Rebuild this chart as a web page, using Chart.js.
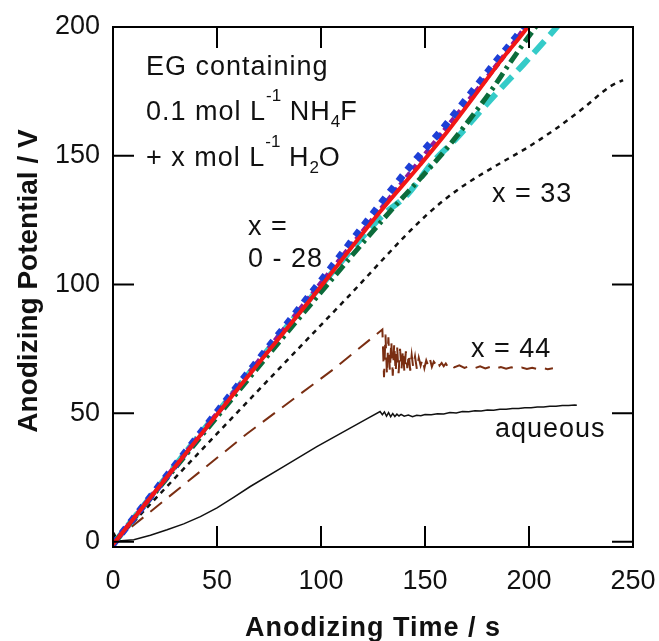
<!DOCTYPE html>
<html>
<head>
<meta charset="utf-8">
<script src="https://cdn.jsdelivr.net/npm/chart.js@4.4.1/dist/chart.umd.min.js"></script>
<style>
  html, body { margin: 0; padding: 0; background: #fff; }
</style>
</head>
<body>
<canvas id="anodChart" width="659" height="641"></canvas>
<script>
/* axis ticks */
const timeTicks = [0, 50, 100, 150, 200, 250];
const potentialTicks = [0, 50, 100, 150, 200];

/* x = 0 - 28 bundle */
const redT = [0, 50, 94.8, 128.4, 147.6, 160.6, 173, 187.5, 199, 201];
const redV = [-1, 49.5, 94, 128.2, 146.4, 159.2, 172.4, 188, 199.6, 202];
const blueT = [0, 50, 100, 127, 146.2, 157.2, 170.2, 182.7, 197, 199];
const blueV = [-1, 50.5, 101.5, 129.7, 149.1, 159.2, 172.4, 185.2, 199.6, 202];
const purpleT = [0, 100, 150, 198, 200];
const purpleV = [-1, 100.5, 150.5, 199.6, 202];
const greenT = [0, 50, 100, 134.7, 146.2, 160.6, 173.1, 182.7, 190.8, 202.8, 205];
const greenV = [-1, 48.5, 97, 129.7, 139.8, 153, 165.8, 176.3, 186, 199.6, 202];
const cyanT = [0, 50, 100, 129.9, 141.4, 153.9, 165.4, 175, 184.6, 197, 210, 215];
const cyanV = [-1, 50, 99.5, 127, 134.8, 147.6, 157, 165.8, 174.5, 185.2, 196.9, 201.5];

/* x = 33 */
const x33T = [0, 2, 50, 111.6, 150.8, 166.8, 182.8, 198.9, 213.3, 226, 238.8, 245.2];
const x33V = [-1, 0.8, 42, 94, 127, 137.4, 145.5, 153, 160.7, 168.4, 176.8, 179.4];

/* x = 44 */
const x44T = [0, 64.4, 105.9, 129.5,
  130.3, 131, 131.7, 132.4, 133.1, 133.8, 134.5, 135.2, 135.9, 136.6, 137.3, 138, 138.7, 139.4, 140.1, 140.8, 141.5, 142.2, 142.9, 143.6, 144.3,
  145.2, 146.1, 147, 147.9, 148.8, 149.7, 150.6, 151.5, 152.4, 153.3, 154.2, 155.1, 156, 157, 158, 159, 160, 161, 162,
  164, 166.5, 169, 171.5, 174, 176.5, 179, 181.5, 184, 186.5, 189, 191.5, 194, 196.5, 199, 201.5, 204, 206.5, 209, 211.5];
const x44V = [0, 42, 67, 82.5,
  64, 80.5, 65, 79.5, 66.5, 78, 64.5, 77, 66, 76, 65.5, 75, 67, 74.5, 66, 74, 67.5, 73, 66.5, 72.5, 68,
  72, 67, 71.5, 68.5, 71, 67.5, 70.5, 68.5, 71, 68, 70, 69, 70.5, 68.5, 69.5, 68.2, 69.3, 68, 69,
  67.8, 68.6, 67.6, 68.3, 67.5, 68.2, 67.4, 68, 67.3, 67.9, 67.3, 67.8, 67.2, 67.7, 67.2, 67.6, 67.1, 67.5, 67.1, 67.4];

/* aqueous */
const aqT = [0, 0.8, 2.5, 10, 18, 26, 34, 42, 50, 58, 66, 82, 98, 114, 122, 128.4,
  129.5, 130.5, 131.5, 132.5, 133.5, 134.5, 135.5, 136.5, 137.5, 138.5,
  140, 142, 144, 146, 148, 150,
  153, 156, 159, 162, 165, 168, 171, 174, 177, 180, 183, 186, 189, 192, 195, 198, 201, 204, 207, 210, 213, 216, 219, 222, 223];
const aqV = [-1.5, 3, 0.3, 0.8, 2.6, 4.7, 7, 9.8, 13.2, 17.3, 21.5, 29.2, 37, 44.2, 47.8, 50.6,
  49.4, 50.5, 48.8, 50.2, 48.6, 49.8, 48.7, 49.6, 48.9, 49.5,
  48.8, 49.3, 48.6, 49.2, 49, 49.5,
  49.4, 49.8, 49.7, 50.2, 50.1, 50.6, 50.5, 50.9, 50.8, 51.2, 51.1, 51.5, 51.5, 51.8, 51.8, 52.1, 52.1, 52.4, 52.4, 52.7, 52.7, 53, 53, 53.2, 53.1];

const FONT = "'Liberation Sans', Arial, sans-serif";

// 그림 안 글자 (0: 보통, 1: 위첨자, -1: 아래첨자)
const notes = [
  { x: 146, y: 75, parts: [['EG containing', 0]] },
  { x: 146, y: 120, parts: [['0.1 mol L', 0], ['-1', 1], [' NH', 0], ['4', -1], ['F', 0]] },
  { x: 146, y: 166, parts: [['+ x mol L', 0], ['-1', 1], [' H', 0], ['2', -1], ['O', 0]] },
  { x: 248, y: 235, parts: [['x =', 0]] },
  { x: 248, y: 267, parts: [['0 - 28', 0]] },
  { x: 492, y: 202, parts: [['x = 33', 0]] },
  { x: 471, y: 357, parts: [['x = 44', 0]] },
  { x: 495, y: 437, parts: [['aqueous', 0]] }
];

const toPts = (t, v) => t.map((x, i) => ({ x: x, y: v[i] }));

function line(data, color, width, dash, smooth) {
  return {
    data: data,
    borderColor: color,
    borderWidth: width,
    borderDash: dash,
    borderCapStyle: 'butt',
    pointRadius: 0,
    tension: 0,
    cubicInterpolationMode: smooth ? 'monotone' : 'default',
    fill: false
  };
}

/** 테두리, 안쪽 눈금, 글자 */
const framePlugin = {
  id: 'frame',
  afterDraw(chart) {
    const { ctx, chartArea: a, scales } = chart;
    const tl = 21;
    ctx.save();
    ctx.strokeStyle = '#000';
    ctx.lineWidth = 2;
    ctx.strokeRect(a.left, a.top, a.right - a.left, a.bottom - a.top);
    ctx.beginPath();
    timeTicks.forEach(v => {
      const px = scales.x.getPixelForValue(v);
      ctx.moveTo(px, a.bottom); ctx.lineTo(px, a.bottom - tl);
      ctx.moveTo(px, a.top); ctx.lineTo(px, a.top + tl);
    });
    potentialTicks.forEach(v => {
      const py = scales.y.getPixelForValue(v);
      ctx.moveTo(a.left, py); ctx.lineTo(a.left + tl, py);
      ctx.moveTo(a.right, py); ctx.lineTo(a.right - tl, py);
    });
    ctx.stroke();

    ctx.fillStyle = '#111';
    ctx.textBaseline = 'alphabetic';
    ctx.textAlign = 'left';
    const size = 27;
    notes.forEach(n => {
      let cx = n.x;
      n.parts.forEach(([t, s]) => {
        const fs = s ? 17 : size;
        ctx.font = fs + 'px ' + FONT;
        ctx.letterSpacing = s ? '0px' : '1px';
        const dy = s === 1 ? -19 : (s === -1 ? 7 : 0);
        ctx.fillText(t, cx, n.y + dy);
        cx += ctx.measureText(t).width;
      });
    });

    // 축 제목
    ctx.font = 'bold 27px ' + FONT;
    ctx.letterSpacing = '1px';
    ctx.textAlign = 'center';
    ctx.fillText('Anodizing Time / s', (a.left + a.right) / 2, 636);
    ctx.translate(37, 281);
    ctx.rotate(-Math.PI / 2);
    ctx.letterSpacing = '0px';
    ctx.font = 'bold 28px ' + FONT;
    ctx.fillText('Anodizing Potential / V', 0, 0);
    ctx.restore();
  }
};

new Chart(document.getElementById('anodChart'), {
  type: 'line',
  data: {
    datasets: [
      line(toPts(redT, redV), '#f21616', 4, [], true),
      line(toPts(blueT, blueV), '#1d3fd6', 7, [7, 7], true),
      line(toPts(purpleT, purpleV), '#8a1c9c', 5, [6, 4], true),
      line(toPts(greenT, greenV), '#0b6b3a', 5, [12, 5, 3, 5], true),
      line(toPts(cyanT, cyanV), '#35cbc8', 6, [16, 8], true),
      line(toPts(x33T, x33V), '#111', 2.5, [5, 5], true),
      line(toPts(x44T, x44V), '#7a2e12', 2, [15, 9], false),
      line(toPts(aqT, aqV), '#111', 1.5, [], false)
    ]
  },
  options: {
    responsive: false,
    animation: false,
    layout: { padding: { top: 27, right: 26, left: 0, bottom: 0 } },
    plugins: { legend: { display: false }, tooltip: { enabled: false } },
    scales: {
      x: {
        type: 'linear',
        min: 0,
        max: 250,
        afterBuildTicks: s => { s.ticks = timeTicks.map(v => ({ value: v })); },
        afterFit: s => { s.height = 94; s.paddingLeft = 0; s.paddingRight = 0; },
        grid: { display: false, drawTicks: false },
        border: { display: false },
        ticks: { color: '#111', font: { size: 27, family: FONT }, padding: 18, maxRotation: 0, autoSkip: false }
      },
      y: {
        type: 'linear',
        min: -2,
        max: 200,
        afterBuildTicks: s => { s.ticks = potentialTicks.map(v => ({ value: v })); },
        afterFit: s => { s.width = 113; s.paddingTop = 0; s.paddingBottom = 0; },
        grid: { display: false, drawTicks: false },
        border: { display: false },
        ticks: { color: '#111', font: { size: 27, family: FONT }, padding: 13, autoSkip: false }
      }
    }
  },
  plugins: [framePlugin]
});
</script>
</body>
</html>
